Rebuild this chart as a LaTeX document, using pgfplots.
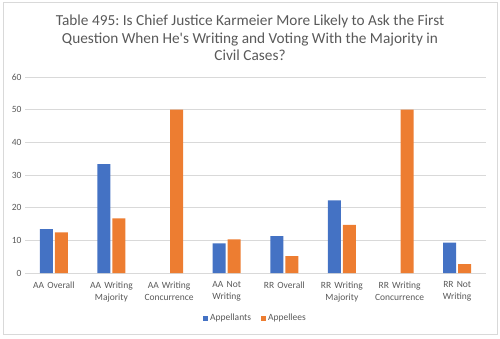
\documentclass[border=0pt]{standalone}
\usepackage{pgfplots}
\pgfplotsset{compat=1.18}
\usepackage{fontspec}
\setmainfont{Carlito}
\frenchspacing
\definecolor{cblue}{HTML}{4472C4}
\definecolor{corange}{HTML}{ED7D31}
\definecolor{tgray}{HTML}{595959}
\definecolor{ggray}{HTML}{D9D9D9}
\begin{document}
\begin{tikzpicture}[x=1bp,y=1bp]
\path[use as bounding box] (0,0) rectangle (500,338);
\draw[ggray,line width=0.8bp] (3,4) rectangle (497,336);
\node[align=center,text=tgray,font=\fontsize{15.3bp}{17.5bp}\selectfont] at (250,300)
 {Table 495: Is Chief Justice Karmeier More Likely to Ask the First\\Question When He\textquotesingle s Writing and Voting With the Majority in\\Civil Cases?};
\begin{axis}[
 at={(25bp,65bp)}, anchor=south west,
 scale only axis, width=461bp, height=196bp,
 ymin=0, ymax=60, ytick={0,10,...,60},
 xmin=-0.5, xmax=7.5,
 xtick={0,...,7},
 xticklabels={AA Overall,AA Writing Majority,AA Writing Concurrence,AA Not Writing,RR Overall,RR Writing Majority,RR Writing Concurrence,RR Not Writing},
 xticklabel style={text width=52bp,align=center,font=\fontsize{9.5bp}{12bp}\selectfont,text=tgray,yshift=-5bp},
 yticklabel style={font=\fontsize{9.5bp}{12bp}\selectfont,text=tgray},
 /pgf/number format/assume math mode=true,
 ybar, bar width=13bp, bar shift auto,
 axis line style={draw=none},
 major tick length=0pt,
 ymajorgrids, grid style={ggray,line width=0.6bp},
 legend style={at={(0.5,-0.23)},anchor=center,draw=none,legend columns=2,font=\fontsize{9.5bp}{12bp}\selectfont,text=tgray,/tikz/every even column/.append style={column sep=8bp}},
 legend image code/.code={\fill[#1] (0bp,-2.5bp) rectangle (5bp,2.5bp);},
]
\addplot[fill=cblue,draw=none] coordinates {(0,13.4) (1,33.3) (3,9.1) (4,11.3) (5,22.2) (7,9.3)};
\addplot[fill=corange,draw=none] coordinates {(0,12.4) (1,16.7) (2,50) (3,10.3) (4,5.2) (5,14.7) (6,50) (7,2.7)};
\legend{Appellants,Appellees}
\end{axis}
\end{tikzpicture}
\end{document}
